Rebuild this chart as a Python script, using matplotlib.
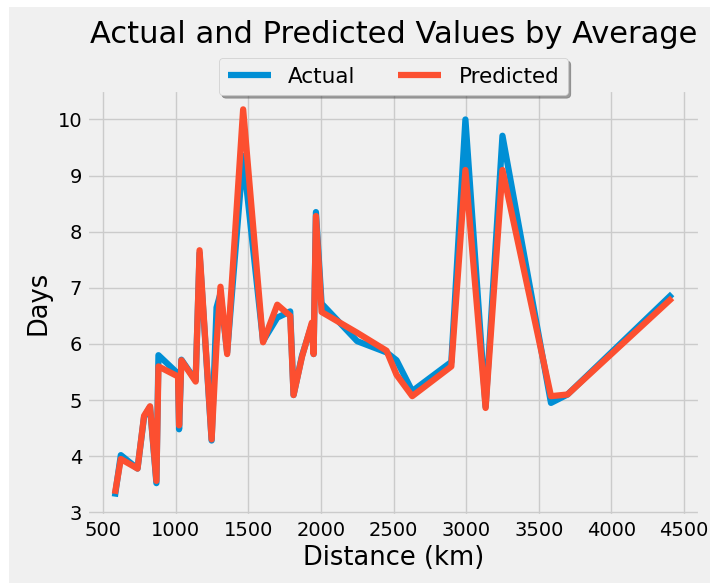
import matplotlib
matplotlib.use("Agg")
import matplotlib.pyplot as plt
from matplotlib.patches import Rectangle

plt.style.use("fivethirtyeight")

# distance (km) sorted, actual days, predicted days
distance = [582, 623, 738, 783, 824, 868, 882, 1017, 1024, 1040, 1138, 1165,
            1248, 1282, 1309, 1355, 1465, 1602, 1700, 1789, 1812, 1870, 1938,
            1950, 1966, 2005, 2250, 2452, 2521, 2629, 2898, 2995, 3134, 3250,
            3584, 3698, 4418]
actual = [3.28, 4.02, 3.78, 4.70, 4.88, 3.52, 5.80, 5.47, 4.48, 5.72, 5.35, 7.62,
          4.28, 6.65, 6.90, 5.85, 9.35, 6.05, 6.47, 6.58, 5.09, 5.79, 6.35,
          5.82, 8.35, 6.72, 6.05, 5.85, 5.71, 5.16, 5.68, 10.0, 4.88, 9.71,
          4.95, 5.10, 6.89]
predicted = [3.33, 3.95, 3.78, 4.72, 4.89, 3.56, 5.60, 5.42, 4.55, 5.71, 5.33, 7.67,
             4.30, 6.00, 7.02, 5.82, 10.18, 6.03, 6.70, 6.50, 5.09, 5.77, 6.38,
             5.82, 8.28, 6.57, 6.20, 5.88, 5.45, 5.07, 5.60, 9.10, 4.86, 9.10,
             5.07, 5.10, 6.82]

fig = plt.figure(figsize=(7.1, 5.83), dpi=100, facecolor="white")
# grey panel, the picture has a thin white border on the left and top
fig.patches.append(Rectangle((9/710, 0), 1, 1 - 7/583, transform=fig.transFigure,
                             facecolor="#f0f0f0", edgecolor="none", zorder=-10))
ax = fig.add_axes([87/710, 1 - 516/583, (700 - 87)/710, (516 - 90)/583])

ax.plot(distance, actual, label="Actual", lw=4.5)
ax.plot(distance, predicted, label="Predicted", lw=4.5)

ax.set_title("Actual and Predicted Values by Average", pad=34, fontsize=22)
ax.set_xlabel("Distance (km)", fontsize=18.5)
ax.set_ylabel("Days", fontsize=18.5)
ax.set_xticks([500, 1000, 1500, 2000, 2500, 3000, 3500, 4000, 4500])
ax.set_yticks([3, 4, 5, 6, 7, 8, 9, 10])
ax.legend(loc="upper center", bbox_to_anchor=(0.5, 1.1), ncol=2,
          fancybox=True, shadow=True, fontsize=15.5)

fig.savefig("out.png", dpi=100, facecolor=fig.get_facecolor())
